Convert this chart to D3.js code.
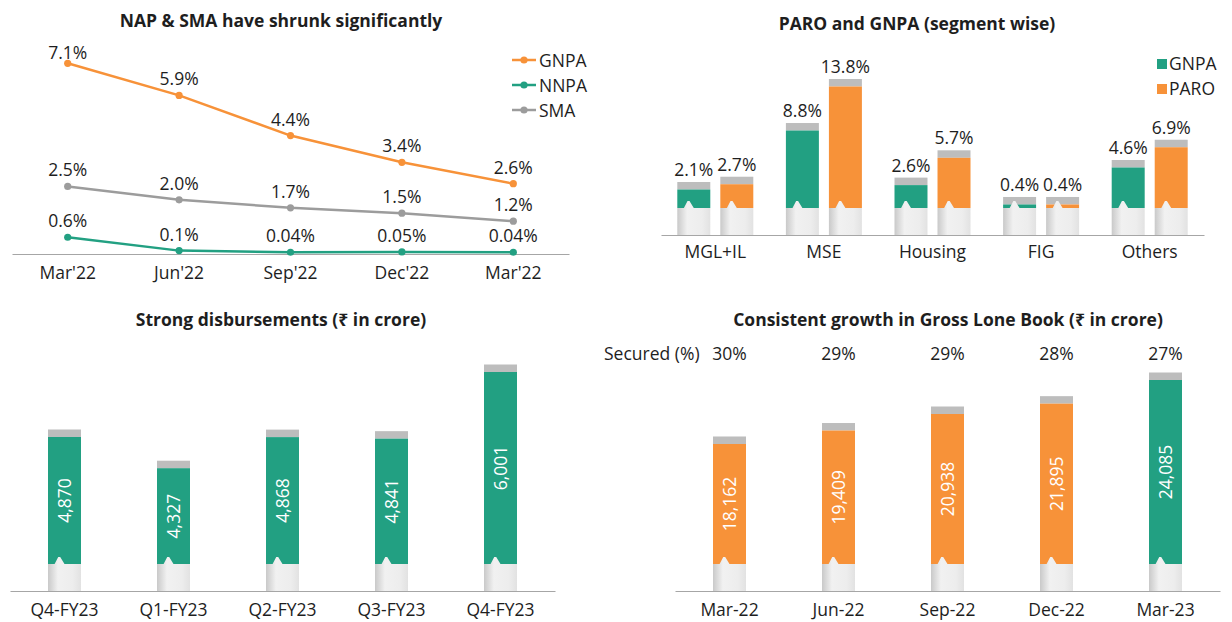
<!DOCTYPE html>
<html>
<head>
<meta charset="utf-8">
<script src="https://cdn.jsdelivr.net/npm/d3@7"></script>
<style>
  body { margin: 0; background: #fff; }
  svg text { font-family: "Open Sans", "Noto Sans", sans-serif; fill: #1e1e1e; }
</style>
</head>
<body>
<svg id="chart" width="1232" height="622"></svg>
<script>
// ---- Asset quality trend (line chart) ----
const trendPeriods = ["Mar'22", "Jun'22", "Sep'22", "Dec'22", "Mar'22"];
const gnpaTrend = [7.1, 5.9, 4.4, 3.4, 2.6];
const nnpaTrend = [0.6, 0.1, 0.04, 0.05, 0.04];
const smaTrend = [2.5, 2.0, 1.7, 1.5, 1.2];

// ---- Segment-wise PARO and GNPA ----
const segments = ["MGL+IL", "MSE", "Housing", "FIG", "Others"];
const segGnpa = [2.1, 8.8, 2.6, 0.4, 4.6];
const segParo = [2.7, 13.8, 5.7, 0.4, 6.9];

// ---- Disbursements (₹ crore) ----
const quarters = ["Q4-FY23", "Q1-FY23", "Q2-FY23", "Q3-FY23", "Q4-FY23"];
const disbursements = [4870, 4327, 4868, 4841, 6001];

// ---- Gross loan book (₹ crore) ----
const bookMonths = ["Mar-22", "Jun-22", "Sep-22", "Dec-22", "Mar-23"];
const grossBook = [18162, 19409, 20938, 21895, 24085];
const securedPct = [30, 29, 29, 28, 27];

const ORANGE = "#f79239", TEAL = "#22a082", GREY = "#9c9c9c", CAP = "#bdbdbd", AXIS = "#a6a6a6";
const FS = "17.5px";

const svg = d3.select("#chart");

// horizontal sheen for the white pedestal under each bar
const defs = svg.append("defs");
const grad = defs.append("linearGradient").attr("id", "pedestal")
  .attr("x1", 0).attr("x2", 1).attr("y1", 0).attr("y2", 0);
grad.append("stop").attr("offset", "0%").attr("stop-color", "#c9c9c9");
grad.append("stop").attr("offset", "30%").attr("stop-color", "#f1f1f1");
grad.append("stop").attr("offset", "75%").attr("stop-color", "#ededed");
grad.append("stop").attr("offset", "100%").attr("stop-color", "#e2e2e2");

function title(x, y, txt) {
  svg.append("text").attr("x", x).attr("y", y).attr("text-anchor", "middle")
    .style("font-weight", 700).style("font-size", "17.5px").text(txt);
}

function styleAxis(g) {
  g.select(".domain").attr("stroke", AXIS).attr("stroke-width", 1.2);
  g.selectAll(".tick line").remove();
  g.selectAll(".tick text").style("font-size", FS)
    .style("font-family", "'Open Sans', sans-serif").attr("fill", "#1e1e1e");
}

// one pillar: pedestal (with notch) + coloured value section + grey cap
function pillar(g, x, w, topY, baseTop, axisY, color) {
  const capH = 7.5;
  g.append("rect").attr("x", x).attr("y", topY - capH).attr("width", w).attr("height", capH).attr("fill", CAP);
  g.append("rect").attr("x", x).attr("y", topY).attr("width", w).attr("height", Math.max(0, baseTop - topY)).attr("fill", color);
  const p = d3.path();
  p.moveTo(x, axisY);
  p.lineTo(x, baseTop);
  p.lineTo(x + w * 0.2, baseTop);
  p.lineTo(x + w * 0.31, baseTop - 7);
  p.lineTo(x + w * 0.37, baseTop - 7);
  p.lineTo(x + w * 0.5, baseTop);
  p.lineTo(x + w, baseTop);
  p.lineTo(x + w, axisY);
  p.closePath();
  g.append("path").attr("d", p.toString()).attr("fill", "url(#pedestal)");
}

// ================= Top-left: line chart =================
{
  title(281, 27, "NAP & SMA have shrunk significantly");
  const x = d3.scaleBand().domain(d3.range(trendPeriods.length)).range([12, 569]);
  const y = d3.scaleLinear().domain([0, 7.1]).range([253.3, 63.3]);
  const axisY = 254;
  const ax = svg.append("g").attr("transform", `translate(0,${axisY})`)
    .call(d3.axisBottom(x).tickSize(0).tickPadding(13).tickFormat(i => trendPeriods[i]));
  styleAxis(ax);

  const series = [
    { name: "GNPA", values: gnpaTrend, color: ORANGE },
    { name: "NNPA", values: nnpaTrend, color: TEAL },
    { name: "SMA", values: smaTrend, color: GREY }
  ];
  const cx = i => x(i) + x.bandwidth() / 2;
  const line = d3.line().x((d, i) => cx(i)).y(d => y(d));
  const fmt = v => (v >= 0.1 ? v.toFixed(1) : v.toFixed(2)) + "%";

  series.forEach(s => {
    const g = svg.append("g");
    g.append("path").datum(s.values).attr("d", line).attr("fill", "none")
      .attr("stroke", s.color).attr("stroke-width", 2.5);
    g.selectAll("circle").data(s.values).join("circle")
      .attr("cx", (d, i) => cx(i)).attr("cy", d => y(d)).attr("r", 3.6).attr("fill", s.color);
    g.selectAll("text").data(s.values).join("text")
      .attr("x", (d, i) => cx(i)).attr("y", d => Math.max(y(d) - 16.5, 52) + 6.5)
      .attr("text-anchor", "middle").style("font-size", FS).text(fmt);
  });

  const lg = svg.append("g").attr("transform", "translate(512,60)");
  series.forEach((s, i) => {
    const r = lg.append("g").attr("transform", `translate(0,${i * 25})`);
    r.append("line").attr("x1", 0).attr("x2", 24).attr("stroke", s.color).attr("stroke-width", 2.5);
    r.append("circle").attr("cx", 12).attr("r", 3.6).attr("fill", s.color);
    r.append("text").attr("x", 27).attr("y", 6.5).style("font-size", FS).text(s.name);
  });
}

// ================= Top-right: segment bars =================
{
  title(917, 30, "PARO and GNPA (segment wise)");
  const axisY = 235, baseTop = 208;
  const x0 = d3.scaleBand().domain(segments).range([661, 1204]);
  const keys = ["GNPA", "PARO"];
  const x1 = d3.scaleBand().domain(keys).range([0, 76]).paddingInner(0.233);
  const y = d3.scaleLinear().domain([0, 13.8]).range([baseTop, baseTop - 121.5]);
  const colors = { GNPA: TEAL, PARO: ORANGE };
  const vals = { GNPA: segGnpa, PARO: segParo };

  segments.forEach((seg, i) => {
    const left = x0(seg) + x0.bandwidth() / 2 - 38;
    keys.forEach(k => {
      const v = vals[k][i];
      const bx = left + x1(k), w = x1.bandwidth();
      const g = svg.append("g");
      pillar(g, bx, w, y(v), baseTop, axisY, colors[k]);
      g.append("text").attr("x", bx + w / 2).attr("y", y(v) - 7.5 - 6)
        .attr("text-anchor", "middle").style("font-size", FS).text(v.toFixed(1) + "%");
    });
  });

  const ax = svg.append("g").attr("transform", `translate(0,${axisY})`)
    .call(d3.axisBottom(x0).tickSize(0).tickPadding(11));
  styleAxis(ax);

  const lg = svg.append("g").attr("transform", "translate(1157,59)");
  keys.forEach((k, i) => {
    const r = lg.append("g").attr("transform", `translate(0,${i * 25})`);
    r.append("rect").attr("width", 10).attr("height", 10).attr("fill", colors[k]);
    r.append("text").attr("x", 12).attr("y", 11).style("font-size", FS).text(k);
  });
}

// ================= Bottom-left: disbursements =================
{
  title(281, 326, "Strong disbursements (₹ in crore)");
  const axisY = 591, baseTop = 564;
  const x = d3.scaleBand().domain(d3.range(quarters.length)).range([10, 555]);
  const w = 33;
  const y = d3.scaleLinear().domain([2660, 6001]).range([baseTop, 372]);
  disbursements.forEach((v, i) => {
    const bx = x(i) + x.bandwidth() / 2 - w / 2;
    const g = svg.append("g");
    pillar(g, bx, w, y(v), baseTop, axisY, TEAL);
    g.append("text")
      .attr("transform", `translate(${bx + w / 2},${(y(v) + baseTop) / 2}) rotate(-90)`)
      .attr("text-anchor", "middle").attr("dy", "0.35em")
      .style("font-size", FS).style("fill", "#fff").text(d3.format(",")(v));
  });
  const ax = svg.append("g").attr("transform", `translate(0,${axisY})`)
    .call(d3.axisBottom(x).tickSize(0).tickPadding(13).tickFormat(i => quarters[i]));
  styleAxis(ax);
}

// ================= Bottom-right: gross loan book =================
{
  title(948, 326, "Consistent growth in Gross Lone Book (₹ in crore)");
  const axisY = 591, baseTop = 564;
  const x = d3.scaleBand().domain(bookMonths).range([675, 1220]);
  const w = 33;
  const y = d3.scaleLinear().domain([7055, 24085]).range([baseTop, 380]);
  svg.append("text").attr("x", 604).attr("y", 360).style("font-size", FS).text("Secured (%)");
  grossBook.forEach((v, i) => {
    const m = bookMonths[i];
    const cx = x(m) + x.bandwidth() / 2;
    const bx = cx - w / 2;
    const g = svg.append("g");
    pillar(g, bx, w, y(v), baseTop, axisY, i === grossBook.length - 1 ? TEAL : ORANGE);
    g.append("text")
      .attr("transform", `translate(${cx},${(y(v) + baseTop) / 2}) rotate(-90)`)
      .attr("text-anchor", "middle").attr("dy", "0.35em")
      .style("font-size", FS).style("fill", "#fff").text(d3.format(",")(v));
    svg.append("text").attr("x", cx).attr("y", 360).attr("text-anchor", "middle")
      .style("font-size", FS).text(securedPct[i] + "%");
  });
  const ax = svg.append("g").attr("transform", `translate(0,${axisY})`)
    .call(d3.axisBottom(x).tickSize(0).tickPadding(13));
  styleAxis(ax);
}
</script>
</body>
</html>
